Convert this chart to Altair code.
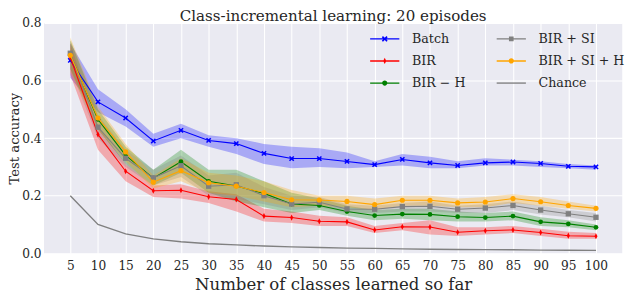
import altair as alt
import pandas as pd

classes = [5, 10, 15, 20, 25, 30, 35, 40, 45, 50, 55, 60, 65, 70, 75, 80, 85, 90, 95, 100]

batch = [0.670, 0.526, 0.470, 0.390, 0.427, 0.392, 0.381, 0.347, 0.329, 0.329,
         0.319, 0.308, 0.326, 0.314, 0.305, 0.314, 0.317, 0.312, 0.302, 0.300]
batch_lo = [0.61, 0.49, 0.44, 0.37, 0.40, 0.37, 0.345, 0.31, 0.295, 0.30,
            0.295, 0.30, 0.305, 0.295, 0.295, 0.305, 0.305, 0.30, 0.295, 0.29]
batch_hi = [0.73, 0.57, 0.50, 0.415, 0.45, 0.41, 0.40, 0.38, 0.37, 0.365,
            0.35, 0.32, 0.345, 0.335, 0.32, 0.33, 0.325, 0.32, 0.31, 0.305]

bir = [0.680, 0.413, 0.285, 0.217, 0.219, 0.196, 0.187, 0.129, 0.124, 0.111,
       0.109, 0.081, 0.092, 0.091, 0.073, 0.078, 0.081, 0.072, 0.061, 0.059]
bir_lo = [0.62, 0.36, 0.25, 0.195, 0.19, 0.175, 0.145, 0.11, 0.105, 0.095,
          0.095, 0.07, 0.08, 0.065, 0.06, 0.065, 0.07, 0.06, 0.05, 0.05]
bir_hi = [0.73, 0.44, 0.31, 0.235, 0.24, 0.215, 0.205, 0.155, 0.145, 0.13,
          0.125, 0.095, 0.105, 0.115, 0.09, 0.09, 0.095, 0.085, 0.075, 0.07]

bir_h = [0.690, 0.465, 0.340, 0.261, 0.318, 0.250, 0.234, 0.208, 0.171, 0.166,
         0.145, 0.131, 0.136, 0.135, 0.127, 0.124, 0.129, 0.109, 0.102, 0.090]
bir_h_lo = [0.64, 0.43, 0.31, 0.235, 0.28, 0.21, 0.18, 0.16, 0.14, 0.15,
            0.13, 0.115, 0.12, 0.115, 0.11, 0.11, 0.115, 0.095, 0.09, 0.08]
bir_h_hi = [0.74, 0.50, 0.37, 0.29, 0.36, 0.29, 0.29, 0.25, 0.21, 0.19,
            0.165, 0.15, 0.155, 0.155, 0.145, 0.14, 0.145, 0.125, 0.115, 0.10]

bir_si = [0.695, 0.438, 0.330, 0.262, 0.304, 0.233, 0.238, 0.200, 0.171, 0.177,
          0.154, 0.153, 0.162, 0.163, 0.153, 0.157, 0.166, 0.150, 0.137, 0.125]
bir_si_lo = [0.64, 0.40, 0.30, 0.235, 0.265, 0.20, 0.19, 0.17, 0.15, 0.16,
             0.14, 0.14, 0.145, 0.145, 0.14, 0.14, 0.15, 0.135, 0.125, 0.11]
bir_si_hi = [0.74, 0.48, 0.36, 0.29, 0.34, 0.27, 0.28, 0.23, 0.20, 0.195,
             0.17, 0.165, 0.175, 0.18, 0.165, 0.17, 0.18, 0.165, 0.15, 0.14]

bir_si_h = [0.688, 0.470, 0.352, 0.247, 0.287, 0.245, 0.233, 0.211, 0.186, 0.185,
            0.180, 0.169, 0.184, 0.184, 0.175, 0.178, 0.190, 0.179, 0.166, 0.156]
bir_si_h_lo = [0.63, 0.43, 0.32, 0.225, 0.25, 0.21, 0.20, 0.18, 0.16, 0.165,
               0.16, 0.15, 0.165, 0.165, 0.16, 0.16, 0.175, 0.165, 0.155, 0.145]
bir_si_h_hi = [0.75, 0.51, 0.38, 0.27, 0.33, 0.28, 0.27, 0.25, 0.22, 0.20,
               0.20, 0.19, 0.20, 0.20, 0.19, 0.195, 0.205, 0.195, 0.18, 0.165]

chance = [0.2, 0.1, 0.067, 0.05, 0.04, 0.033, 0.029, 0.025, 0.022, 0.02,
          0.018, 0.017, 0.015, 0.014, 0.013, 0.0125, 0.012, 0.011, 0.0105, 0.01]

names = ["Batch", "BIR", "BIR \u2212 H", "BIR + SI", "BIR + SI + H", "Chance"]
means = [batch, bir, bir_h, bir_si, bir_si_h, chance]
lows = [batch_lo, bir_lo, bir_h_lo, bir_si_lo, bir_si_h_lo, chance]
highs = [batch_hi, bir_hi, bir_h_hi, bir_si_hi, bir_si_h_hi, chance]
colors = {"Batch": "#0000ff", "BIR": "#ff0000", "BIR \u2212 H": "#008000",
          "BIR + SI": "#808080", "BIR + SI + H": "#ffa500", "Chance": "#808080"}

rows = []
for n, m, lo, hi in zip(names, means, lows, highs):
    for x, a, b, c in zip(classes, m, lo, hi):
        rows.append({"x": x, "series": n, "y": a, "lo": b, "hi": c})
df = pd.DataFrame(rows)

legend_order = names
color_scale = alt.Scale(domain=legend_order, range=[colors[k] for k in legend_order])

LINE = "M-1.5,-0.07H1.5V0.07H-1.5Z"
X_P = "M-0.3,-0.18L-0.18,-0.3L0,-0.12L0.18,-0.3L0.3,-0.18L0.12,0L0.3,0.18L0.18,0.3L0,0.12L-0.18,0.3L-0.3,0.18L-0.12,0Z"
D_P = "M0,-0.32L0.16,0L0,0.32L-0.16,0Z"
C_P = "M0.27,0A0.27,0.27,0,1,1,-0.27,0A0.27,0.27,0,1,1,0.27,0Z"
S_P = "M-0.24,-0.24H0.24V0.24H-0.24Z"
legend_shapes = {"Batch": LINE + X_P, "BIR": LINE + D_P, "BIR \u2212 H": LINE + C_P,
                 "BIR + SI": LINE + S_P, "BIR + SI + H": LINE + C_P, "Chance": LINE}
shape_scale = alt.Scale(domain=legend_order, range=[legend_shapes[k] for k in legend_order])

FONT = "DejaVu Serif"
TXT = "#262626"

xenc = alt.X("x:Q", scale=alt.Scale(domain=[0.25, 104.75], nice=False, zero=False),
             axis=alt.Axis(values=classes, title="Number of classes learned so far",
                           labelFlush=False, labelPadding=7, titlePadding=5))
yenc = alt.Y("y:Q", scale=alt.Scale(domain=[0, 0.8], nice=False),
             axis=alt.Axis(values=[0, 0.1, 0.2, 0.3, 0.4, 0.5, 0.6, 0.7, 0.8], format=".1f",
                           title="Test accuracy", titlePadding=0, titleFontSize=13.5,
                           labelPadding=3))

base = alt.Chart(df)

leg_kw = dict(orient="none", legendX=340, legendY=6.3, columns=2, symbolSize=400,
              labelOffset=18, columnPadding=32, rowPadding=5.7, labelFont=FONT,
              labelFontSize=13, labelColor=TXT, title=None, padding=0,
              symbolStrokeWidth=0, symbolOpacity=1)
legend_layer = base.transform_filter("false").mark_point(filled=True, opacity=1).encode(
    x=xenc, y=yenc,
    color=alt.Color("series:N", scale=color_scale, legend=alt.Legend(**leg_kw)),
    shape=alt.Shape("series:N", scale=shape_scale, legend=alt.Legend(**leg_kw)))

marker_shapes = {"Batch": "M-1,-0.6L-0.6,-1L0,-0.4L0.6,-1L1,-0.6L0.4,0L1,0.6L0.6,1L0,0.4L-0.6,1L-1,0.6L-0.4,0Z",
                 "BIR": "M0,-1L0.5,0L0,1L-0.5,0Z",
                 "BIR \u2212 H": "circle", "BIR + SI": "square", "BIR + SI + H": "circle"}
marker_sizes = {"Batch": 30, "BIR": 40, "BIR \u2212 H": 24, "BIR + SI": 30, "BIR + SI + H": 28}
main = ["Batch", "BIR", "BIR \u2212 H", "BIR + SI", "BIR + SI + H"]

layers = [legend_layer]
for n in main:
    layers.append(base.transform_filter(alt.datum.series == n).mark_area(
        opacity=0.28, color=colors[n]).encode(
        x=xenc, y=alt.Y("lo:Q", scale=alt.Scale(domain=[0, 0.8], nice=False)), y2="hi:Q"))
for n in main:
    layers.append(base.transform_filter(alt.datum.series == n).mark_line(
        strokeWidth=1.1, color=colors[n]).encode(x=xenc, y=yenc))
    layers.append(base.transform_filter(alt.datum.series == n).mark_point(
        filled=True, opacity=1, shape=marker_shapes[n], size=marker_sizes[n],
        color=colors[n]).encode(x=xenc, y=yenc))
layers.append(base.transform_filter(alt.datum.series == "Chance").mark_line(
    strokeWidth=1.4, color="#808080").encode(x=xenc, y=yenc))

chart = alt.layer(*layers).properties(
    width=594, height=236.5,
    title=alt.TitleParams("Class-incremental learning: 20 episodes", font=FONT, fontSize=15.5,
                          fontWeight="normal", color=TXT, anchor="middle", offset=-7),
    autosize=alt.AutoSizeParams(type="none"),
    padding={"left": 37, "top": 11.5, "right": 10, "bottom": 40},
).configure_view(fill="#EAEAF2", stroke=None).configure_axis(
    grid=True, gridColor="white", gridWidth=1.1, domain=False, ticks=False,
    labelFont=FONT, labelFontSize=12.5, labelColor=TXT, labelPadding=4,
    titleFont=FONT, titleFontSize=17, titleFontWeight="normal", titleColor=TXT)

chart.save("out.html", embed_options={"renderer": "svg", "actions": False})
